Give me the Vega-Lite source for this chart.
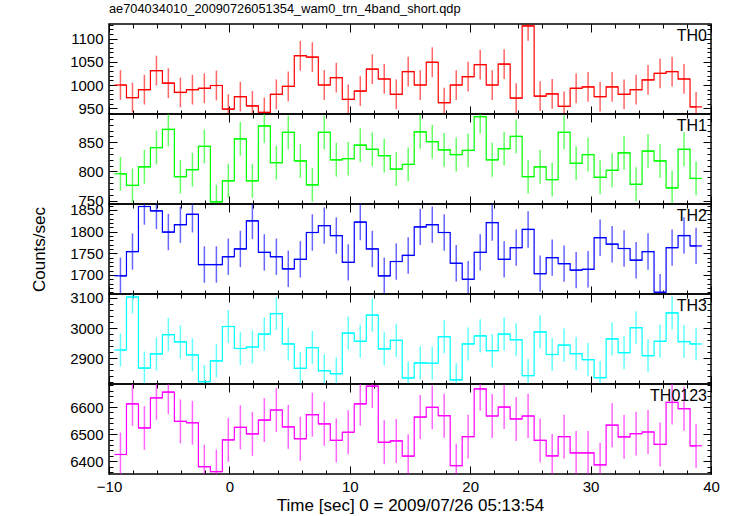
{
"$schema": "https://vega.github.io/schema/vega-lite/v6.json",
"padding": {"left": 29, "top": 1, "right": 21, "bottom": 2},
"background": "white",
"spacing": 0,
"bounds": "flush",
"data": {"values": [
{"t":-9.05,"t0":-9.55,"t1":-8.55,"th0":1000,"th1":796,"th2":1698,"th3":2927,"th0123":6425,"e0":32,"e1":29,"e2":42,"e3":55,"e0123":81},
{"t":-8.05,"t0":-8.55,"t1":-7.56,"th0":973,"th1":776,"th2":1754,"th3":3103,"th0123":6612,"e0":32,"e1":29,"e2":42,"e3":55,"e0123":81},
{"t":-7.06,"t0":-7.56,"t1":-6.56,"th0":990,"th1":808,"th2":1858,"th3":2867,"th0123":6523,"e0":32,"e1":29,"e2":42,"e3":55,"e0123":81},
{"t":-6.06,"t0":-6.56,"t1":-5.56,"th0":1031,"th1":841,"th2":1848,"th3":2914,"th0123":6634,"e0":32,"e1":29,"e2":42,"e3":55,"e0123":81},
{"t":-5.07,"t0":-5.56,"t1":-4.57,"th0":1004,"th1":872,"th2":1799,"th3":2978,"th0123":6655,"e0":32,"e1":29,"e2":42,"e3":55,"e0123":81},
{"t":-4.07,"t0":-4.57,"t1":-3.57,"th0":984,"th1":791,"th2":1816,"th3":2954,"th0123":6547,"e0":32,"e1":29,"e2":42,"e3":55,"e0123":81},
{"t":-3.07,"t0":-3.57,"t1":-2.58,"th0":990,"th1":803,"th2":1840,"th3":2911,"th0123":6542,"e0":32,"e1":29,"e2":42,"e3":55,"e0123":81},
{"t":-2.08,"t0":-2.58,"t1":-1.58,"th0":993,"th1":843,"th2":1724,"th3":2822,"th0123":6380,"e0":32,"e1":29,"e2":42,"e3":55,"e0123":81},
{"t":-1.08,"t0":-1.58,"t1":-0.58,"th0":999,"th1":748,"th2":1724,"th3":2891,"th0123":6362,"e0":32,"e1":29,"e2":42,"e3":55,"e0123":81},
{"t":-0.09,"t0":-0.58,"t1":0.41,"th0":948,"th1":784,"th2":1742,"th3":3005,"th0123":6479,"e0":32,"e1":29,"e2":42,"e3":55,"e0123":81},
{"t":0.91,"t0":0.41,"t1":1.41,"th0":975,"th1":856,"th2":1760,"th3":2932,"th0123":6525,"e0":32,"e1":29,"e2":42,"e3":55,"e0123":81},
{"t":1.91,"t0":1.41,"t1":2.40,"th0":955,"th1":784,"th2":1825,"th3":2937,"th0123":6501,"e0":32,"e1":29,"e2":42,"e3":55,"e0123":81},
{"t":2.90,"t0":2.40,"t1":3.40,"th0":941,"th1":878,"th2":1752,"th3":2980,"th0123":6552,"e0":32,"e1":29,"e2":42,"e3":55,"e0123":81},
{"t":3.90,"t0":3.40,"t1":4.40,"th0":980,"th1":815,"th2":1742,"th3":3048,"th0123":6589,"e0":32,"e1":29,"e2":42,"e3":55,"e0123":81},
{"t":4.89,"t0":4.40,"t1":5.39,"th0":997,"th1":867,"th2":1714,"th3":2947,"th0123":6527,"e0":32,"e1":29,"e2":42,"e3":55,"e0123":81},
{"t":5.89,"t0":5.39,"t1":6.39,"th0":1063,"th1":818,"th2":1736,"th3":2866,"th0123":6483,"e0":32,"e1":29,"e2":42,"e3":55,"e0123":81},
{"t":6.89,"t0":6.39,"t1":7.38,"th0":1060,"th1":777,"th2":1798,"th3":2935,"th0123":6572,"e0":32,"e1":29,"e2":42,"e3":55,"e0123":81},
{"t":7.88,"t0":7.38,"t1":8.38,"th0":1000,"th1":867,"th2":1814,"th3":2858,"th0123":6538,"e0":32,"e1":29,"e2":42,"e3":55,"e0123":81},
{"t":8.88,"t0":8.38,"t1":9.38,"th0":1016,"th1":820,"th2":1791,"th3":2848,"th0123":6477,"e0":32,"e1":29,"e2":42,"e3":55,"e0123":81},
{"t":9.87,"t0":9.38,"t1":10.37,"th0":969,"th1":822,"th2":1729,"th3":2983,"th0123":6507,"e0":32,"e1":29,"e2":42,"e3":55,"e0123":81},
{"t":10.87,"t0":10.37,"t1":11.37,"th0":987,"th1":845,"th2":1822,"th3":2956,"th0123":6612,"e0":32,"e1":29,"e2":42,"e3":55,"e0123":81},
{"t":11.87,"t0":11.37,"t1":12.36,"th0":1034,"th1":838,"th2":1760,"th3":3043,"th0123":6677,"e0":32,"e1":29,"e2":42,"e3":55,"e0123":81},
{"t":12.86,"t0":12.36,"t1":13.36,"th0":1013,"th1":827,"th2":1698,"th3":2931,"th0123":6470,"e0":32,"e1":29,"e2":42,"e3":55,"e0123":81},
{"t":13.86,"t0":13.36,"t1":14.36,"th0":980,"th1":804,"th2":1731,"th3":2959,"th0123":6475,"e0":32,"e1":29,"e2":42,"e3":55,"e0123":81},
{"t":14.85,"t0":14.36,"t1":15.35,"th0":1029,"th1":812,"th2":1745,"th3":2834,"th0123":6419,"e0":32,"e1":29,"e2":42,"e3":55,"e0123":81},
{"t":15.85,"t0":15.35,"t1":16.35,"th0":1000,"th1":868,"th2":1811,"th3":2884,"th0123":6563,"e0":32,"e1":29,"e2":42,"e3":55,"e0123":81},
{"t":16.85,"t0":16.35,"t1":17.34,"th0":1049,"th1":851,"th2":1816,"th3":2883,"th0123":6599,"e0":32,"e1":29,"e2":42,"e3":55,"e0123":81},
{"t":17.84,"t0":17.34,"t1":18.34,"th0":962,"th1":837,"th2":1798,"th3":2971,"th0123":6568,"e0":32,"e1":29,"e2":42,"e3":55,"e0123":81},
{"t":18.84,"t0":18.34,"t1":19.34,"th0":1000,"th1":829,"th2":1727,"th3":2828,"th0123":6384,"e0":32,"e1":29,"e2":42,"e3":55,"e0123":81},
{"t":19.83,"t0":19.34,"t1":20.33,"th0":1018,"th1":836,"th2":1690,"th3":2947,"th0123":6491,"e0":32,"e1":29,"e2":42,"e3":55,"e0123":81},
{"t":20.83,"t0":20.33,"t1":21.33,"th0":1044,"th1":894,"th2":1752,"th3":2974,"th0123":6667,"e0":32,"e1":29,"e2":42,"e3":55,"e0123":81},
{"t":21.83,"t0":21.33,"t1":22.32,"th0":1000,"th1":820,"th2":1821,"th3":2925,"th0123":6567,"e0":32,"e1":29,"e2":42,"e3":55,"e0123":81},
{"t":22.82,"t0":22.32,"t1":23.32,"th0":1045,"th1":839,"th2":1736,"th3":2980,"th0123":6600,"e0":32,"e1":29,"e2":42,"e3":55,"e0123":81},
{"t":23.82,"t0":23.32,"t1":24.32,"th0":972,"th1":860,"th2":1763,"th3":2961,"th0123":6556,"e0":32,"e1":29,"e2":42,"e3":55,"e0123":81},
{"t":24.81,"t0":24.32,"t1":25.31,"th0":1127,"th1":791,"th2":1805,"th3":2842,"th0123":6567,"e0":32,"e1":29,"e2":42,"e3":55,"e0123":81},
{"t":25.81,"t0":25.31,"t1":26.31,"th0":976,"th1":808,"th2":1703,"th3":2987,"th0123":6477,"e0":32,"e1":29,"e2":42,"e3":55,"e0123":81},
{"t":26.81,"t0":26.31,"t1":27.30,"th0":981,"th1":786,"th2":1740,"th3":2912,"th0123":6420,"e0":32,"e1":29,"e2":42,"e3":55,"e0123":81},
{"t":27.80,"t0":27.30,"t1":28.30,"th0":954,"th1":867,"th2":1726,"th3":2943,"th0123":6491,"e0":32,"e1":29,"e2":42,"e3":55,"e0123":81},
{"t":28.80,"t0":28.30,"t1":29.30,"th0":993,"th1":814,"th2":1711,"th3":2915,"th0123":6431,"e0":32,"e1":29,"e2":42,"e3":55,"e0123":81},
{"t":29.79,"t0":29.30,"t1":30.29,"th0":996,"th1":829,"th2":1713,"th3":2895,"th0123":6431,"e0":32,"e1":29,"e2":42,"e3":55,"e0123":81},
{"t":30.79,"t0":30.29,"t1":31.29,"th0":975,"th1":790,"th2":1786,"th3":2835,"th0123":6387,"e0":32,"e1":29,"e2":42,"e3":55,"e0123":81},
{"t":31.79,"t0":31.29,"t1":32.28,"th0":996,"th1":802,"th2":1771,"th3":2964,"th0123":6533,"e0":32,"e1":29,"e2":42,"e3":55,"e0123":81},
{"t":32.78,"t0":32.28,"t1":33.28,"th0":980,"th1":832,"th2":1761,"th3":2918,"th0123":6490,"e0":32,"e1":29,"e2":42,"e3":55,"e0123":81},
{"t":33.78,"t0":33.28,"t1":34.28,"th0":990,"th1":778,"th2":1734,"th3":3001,"th0123":6502,"e0":32,"e1":29,"e2":42,"e3":55,"e0123":81},
{"t":34.77,"t0":34.28,"t1":35.27,"th0":1011,"th1":835,"th2":1754,"th3":2908,"th0123":6508,"e0":32,"e1":29,"e2":42,"e3":55,"e0123":81},
{"t":35.77,"t0":35.27,"t1":36.27,"th0":1025,"th1":818,"th2":1660,"th3":2956,"th0123":6462,"e0":32,"e1":29,"e2":42,"e3":55,"e0123":81},
{"t":36.77,"t0":36.27,"t1":37.26,"th0":1029,"th1":772,"th2":1763,"th3":3050,"th0123":6617,"e0":32,"e1":29,"e2":42,"e3":55,"e0123":81},
{"t":37.76,"t0":37.26,"t1":38.26,"th0":1013,"th1":838,"th2":1791,"th3":2955,"th0123":6594,"e0":32,"e1":29,"e2":42,"e3":55,"e0123":81},
{"t":38.76,"t0":38.26,"t1":39.26,"th0":953,"th1":788,"th2":1767,"th3":2947,"th0123":6457,"e0":32,"e1":29,"e2":42,"e3":55,"e0123":81}
]},
"config": {
  "view": {"stroke": "#000", "strokeWidth": 1.5},
  "axis": {"grid": false, "domain": false, "tickColor": "#000", "tickWidth": 1, "labelFont": "Liberation Sans", "labelFontSize": 15, "labelColor": "#000", "titleFont": "Liberation Sans", "titleFontSize": 17, "titleFontWeight": "normal", "titleColor": "#000", "labelFlush": false, "labelOverlap": false, "format": "d"},
  "title": {"font": "Liberation Sans", "fontSize": 12.8, "fontWeight": "normal", "color": "#000"}
},
"vconcat": [
{
  "width": 602, "height": 90,
  "title": {"text": "ae704034010_20090726051354_wam0_trn_4band_short.qdp", "anchor": "start", "frame": "group", "offset": 8},
  "layer": [
    {"mark": {"type": "line", "interpolate": "step", "color": "#ff0000", "strokeWidth": 1.2, "clip": true},
     "encoding": {
       "x": {"field": "t", "type": "quantitative", "scale": {"domain": [-10, 40], "nice": false, "zero": false}, "axis": {"orient": "bottom", "values": [-10,0,10,20,30,40], "tickSize": -8, "labels": false, "title": null}},
       "y": {"field": "th0", "type": "quantitative", "scale": {"domain": [937.7, 1131.2], "nice": false, "zero": false}, "axis": {"orient": "left", "values": [950,1000,1050,1100], "tickSize": -8, "labelPadding": 14, "title": null}}}},
    {"mark": {"type": "rule", "color": "#ff0000", "strokeWidth": 1.2, "clip": true},
     "encoding": {
       "x": {"field": "t0", "type": "quantitative", "scale": {"domain": [-10, 40], "nice": false, "zero": false}, "axis": {"orient": "top", "values": [-10,0,10,20,30,40], "tickSize": -8, "labels": false, "title": null}},
       "x2": {"field": "t1"},
       "y": {"field": "th0", "type": "quantitative", "scale": {"domain": [937.7, 1131.2], "nice": false, "zero": false}, "axis": {"orient": "right", "values": [950,1000,1050,1100], "tickSize": -8, "labels": false, "title": null}}}},
    {"mark": {"type": "errorbar", "color": "#ff0000", "clip": true, "rule": {"strokeWidth": 1.5, "opacity": 0.6}},
     "encoding": {
       "x": {"field": "t", "type": "quantitative", "scale": {"domain": [-10, 40], "nice": false, "zero": false}, "axis": {"orient": "bottom", "values": [-10,-8,-6,-4,-2,0,2,4,6,8,10,12,14,16,18,20,22,24,26,28,30,32,34,36,38,40], "tickSize": -4, "labels": false, "title": null}},
       "y": {"field": "th0", "type": "quantitative", "scale": {"domain": [937.7, 1131.2], "nice": false, "zero": false}, "axis": {"orient": "left", "values": [940,950,960,970,980,990,1000,1010,1020,1030,1040,1050,1060,1070,1080,1090,1100,1110,1120,1130], "tickSize": -4, "labels": false, "title": null}},
       "yError": {"field": "e0"}}},
    {"data": {"values": [{"lab": "TH0"}]},
     "mark": {"type": "text", "align": "right", "baseline": "top", "dx": -4, "dy": 4, "font": "Liberation Sans", "fontSize": 16, "color": "#000"},
     "encoding": {
       "x": {"datum": 40, "type": "quantitative", "scale": {"domain": [-10, 40], "nice": false, "zero": false}, "axis": {"orient": "top", "values": [-10,-8,-6,-4,-2,0,2,4,6,8,10,12,14,16,18,20,22,24,26,28,30,32,34,36,38,40], "tickSize": -4, "labels": false, "title": null}},
       "y": {"datum": 1131.2, "type": "quantitative", "scale": {"domain": [937.7, 1131.2], "nice": false, "zero": false}, "axis": {"orient": "right", "values": [940,950,960,970,980,990,1000,1010,1020,1030,1040,1050,1060,1070,1080,1090,1100,1110,1120,1130], "tickSize": -4, "labels": false, "title": null}},
       "text": {"field": "lab"}}}
  ],
  "resolve": {"axis": {"x": "independent", "y": "independent"}}
},
{
  "width": 602, "height": 90,
  "layer": [
    {"mark": {"type": "line", "interpolate": "step", "color": "#00ff00", "strokeWidth": 1.2, "clip": true},
     "encoding": {
       "x": {"field": "t", "type": "quantitative", "scale": {"domain": [-10, 40], "nice": false, "zero": false}, "axis": {"orient": "bottom", "values": [-10,0,10,20,30,40], "tickSize": -8, "labels": false, "title": null}},
       "y": {"field": "th1", "type": "quantitative", "scale": {"domain": [744.2, 898.5], "nice": false, "zero": false}, "axis": {"orient": "left", "values": [750,800,850], "tickSize": -8, "labelPadding": 14, "title": null}}}},
    {"mark": {"type": "rule", "color": "#00ff00", "strokeWidth": 1.2, "clip": true},
     "encoding": {
       "x": {"field": "t0", "type": "quantitative", "scale": {"domain": [-10, 40], "nice": false, "zero": false}, "axis": {"orient": "top", "values": [-10,0,10,20,30,40], "tickSize": -8, "labels": false, "title": null}},
       "x2": {"field": "t1"},
       "y": {"field": "th1", "type": "quantitative", "scale": {"domain": [744.2, 898.5], "nice": false, "zero": false}, "axis": {"orient": "right", "values": [750,800,850], "tickSize": -8, "labels": false, "title": null}}}},
    {"mark": {"type": "errorbar", "color": "#00ff00", "clip": true, "rule": {"strokeWidth": 1.5, "opacity": 0.6}},
     "encoding": {
       "x": {"field": "t", "type": "quantitative", "scale": {"domain": [-10, 40], "nice": false, "zero": false}, "axis": {"orient": "bottom", "values": [-10,-8,-6,-4,-2,0,2,4,6,8,10,12,14,16,18,20,22,24,26,28,30,32,34,36,38,40], "tickSize": -4, "labels": false, "title": null}},
       "y": {"field": "th1", "type": "quantitative", "scale": {"domain": [744.2, 898.5], "nice": false, "zero": false}, "axis": {"orient": "left", "values": [750,760,770,780,790,800,810,820,830,840,850,860,870,880,890], "tickSize": -4, "labels": false, "title": null}},
       "yError": {"field": "e1"}}},
    {"data": {"values": [{"lab": "TH1"}]},
     "mark": {"type": "text", "align": "right", "baseline": "top", "dx": -4, "dy": 4, "font": "Liberation Sans", "fontSize": 16, "color": "#000"},
     "encoding": {
       "x": {"datum": 40, "type": "quantitative", "scale": {"domain": [-10, 40], "nice": false, "zero": false}, "axis": {"orient": "top", "values": [-10,-8,-6,-4,-2,0,2,4,6,8,10,12,14,16,18,20,22,24,26,28,30,32,34,36,38,40], "tickSize": -4, "labels": false, "title": null}},
       "y": {"datum": 898.5, "type": "quantitative", "scale": {"domain": [744.2, 898.5], "nice": false, "zero": false}, "axis": {"orient": "right", "values": [750,760,770,780,790,800,810,820,830,840,850,860,870,880,890], "tickSize": -4, "labels": false, "title": null}},
       "text": {"field": "lab"}}}
  ],
  "resolve": {"axis": {"x": "independent", "y": "independent"}}
},
{
  "width": 602, "height": 90,
  "layer": [
    {"mark": {"type": "line", "interpolate": "step", "color": "#0000ff", "strokeWidth": 1.2, "clip": true},
     "encoding": {
       "x": {"field": "t", "type": "quantitative", "scale": {"domain": [-10, 40], "nice": false, "zero": false}, "axis": {"orient": "bottom", "values": [-10,0,10,20,30,40], "tickSize": -8, "labels": false, "title": null}},
       "y": {"field": "th2", "type": "quantitative", "scale": {"domain": [1656, 1863.8], "nice": false, "zero": false}, "axis": {"orient": "left", "values": [1700,1750,1800,1850], "tickSize": -8, "labelPadding": 14, "title": "Counts/sec", "titlePadding": 21}}}},
    {"mark": {"type": "rule", "color": "#0000ff", "strokeWidth": 1.2, "clip": true},
     "encoding": {
       "x": {"field": "t0", "type": "quantitative", "scale": {"domain": [-10, 40], "nice": false, "zero": false}, "axis": {"orient": "top", "values": [-10,0,10,20,30,40], "tickSize": -8, "labels": false, "title": null}},
       "x2": {"field": "t1"},
       "y": {"field": "th2", "type": "quantitative", "scale": {"domain": [1656, 1863.8], "nice": false, "zero": false}, "axis": {"orient": "right", "values": [1700,1750,1800,1850], "tickSize": -8, "labels": false, "title": null}}}},
    {"mark": {"type": "errorbar", "color": "#0000ff", "clip": true, "rule": {"strokeWidth": 1.5, "opacity": 0.6}},
     "encoding": {
       "x": {"field": "t", "type": "quantitative", "scale": {"domain": [-10, 40], "nice": false, "zero": false}, "axis": {"orient": "bottom", "values": [-10,-8,-6,-4,-2,0,2,4,6,8,10,12,14,16,18,20,22,24,26,28,30,32,34,36,38,40], "tickSize": -4, "labels": false, "title": null}},
       "y": {"field": "th2", "type": "quantitative", "scale": {"domain": [1656, 1863.8], "nice": false, "zero": false}, "axis": {"orient": "left", "values": [1660,1670,1680,1690,1700,1710,1720,1730,1740,1750,1760,1770,1780,1790,1800,1810,1820,1830,1840,1850,1860], "tickSize": -4, "labels": false, "title": null}},
       "yError": {"field": "e2"}}},
    {"data": {"values": [{"lab": "TH2"}]},
     "mark": {"type": "text", "align": "right", "baseline": "top", "dx": -4, "dy": 4, "font": "Liberation Sans", "fontSize": 16, "color": "#000"},
     "encoding": {
       "x": {"datum": 40, "type": "quantitative", "scale": {"domain": [-10, 40], "nice": false, "zero": false}, "axis": {"orient": "top", "values": [-10,-8,-6,-4,-2,0,2,4,6,8,10,12,14,16,18,20,22,24,26,28,30,32,34,36,38,40], "tickSize": -4, "labels": false, "title": null}},
       "y": {"datum": 1863.8, "type": "quantitative", "scale": {"domain": [1656, 1863.8], "nice": false, "zero": false}, "axis": {"orient": "right", "values": [1660,1670,1680,1690,1700,1710,1720,1730,1740,1750,1760,1770,1780,1790,1800,1810,1820,1830,1840,1850,1860], "tickSize": -4, "labels": false, "title": null}},
       "text": {"field": "lab"}}}
  ],
  "resolve": {"axis": {"x": "independent", "y": "independent"}}
},
{
  "width": 602, "height": 90,
  "layer": [
    {"mark": {"type": "line", "interpolate": "step", "color": "#00ffff", "strokeWidth": 1.2, "clip": true},
     "encoding": {
       "x": {"field": "t", "type": "quantitative", "scale": {"domain": [-10, 40], "nice": false, "zero": false}, "axis": {"orient": "bottom", "values": [-10,0,10,20,30,40], "tickSize": -8, "labels": false, "title": null}},
       "y": {"field": "th3", "type": "quantitative", "scale": {"domain": [2814, 3113], "nice": false, "zero": false}, "axis": {"orient": "left", "values": [2900,3000,3100], "tickSize": -8, "labelPadding": 14, "title": null}}}},
    {"mark": {"type": "rule", "color": "#00ffff", "strokeWidth": 1.2, "clip": true},
     "encoding": {
       "x": {"field": "t0", "type": "quantitative", "scale": {"domain": [-10, 40], "nice": false, "zero": false}, "axis": {"orient": "top", "values": [-10,0,10,20,30,40], "tickSize": -8, "labels": false, "title": null}},
       "x2": {"field": "t1"},
       "y": {"field": "th3", "type": "quantitative", "scale": {"domain": [2814, 3113], "nice": false, "zero": false}, "axis": {"orient": "right", "values": [2900,3000,3100], "tickSize": -8, "labels": false, "title": null}}}},
    {"mark": {"type": "errorbar", "color": "#00ffff", "clip": true, "rule": {"strokeWidth": 1.5, "opacity": 0.6}},
     "encoding": {
       "x": {"field": "t", "type": "quantitative", "scale": {"domain": [-10, 40], "nice": false, "zero": false}, "axis": {"orient": "bottom", "values": [-10,-8,-6,-4,-2,0,2,4,6,8,10,12,14,16,18,20,22,24,26,28,30,32,34,36,38,40], "tickSize": -4, "labels": false, "title": null}},
       "y": {"field": "th3", "type": "quantitative", "scale": {"domain": [2814, 3113], "nice": false, "zero": false}, "axis": {"orient": "left", "values": [2820,2840,2860,2880,2900,2920,2940,2960,2980,3000,3020,3040,3060,3080,3100], "tickSize": -4, "labels": false, "title": null}},
       "yError": {"field": "e3"}}},
    {"data": {"values": [{"lab": "TH3"}]},
     "mark": {"type": "text", "align": "right", "baseline": "top", "dx": -4, "dy": 4, "font": "Liberation Sans", "fontSize": 16, "color": "#000"},
     "encoding": {
       "x": {"datum": 40, "type": "quantitative", "scale": {"domain": [-10, 40], "nice": false, "zero": false}, "axis": {"orient": "top", "values": [-10,-8,-6,-4,-2,0,2,4,6,8,10,12,14,16,18,20,22,24,26,28,30,32,34,36,38,40], "tickSize": -4, "labels": false, "title": null}},
       "y": {"datum": 3113, "type": "quantitative", "scale": {"domain": [2814, 3113], "nice": false, "zero": false}, "axis": {"orient": "right", "values": [2820,2840,2860,2880,2900,2920,2940,2960,2980,3000,3020,3040,3060,3080,3100], "tickSize": -4, "labels": false, "title": null}},
       "text": {"field": "lab"}}}
  ],
  "resolve": {"axis": {"x": "independent", "y": "independent"}}
},
{
  "width": 602, "height": 90,
  "layer": [
    {"mark": {"type": "line", "interpolate": "step", "color": "#ff00ff", "strokeWidth": 1.2, "clip": true},
     "encoding": {
       "x": {"field": "t", "type": "quantitative", "scale": {"domain": [-10, 40], "nice": false, "zero": false}, "axis": {"orient": "bottom", "values": [-10,0,10,20,30,40], "tickSize": -8, "labels": true, "labelPadding": 13, "title": "Time [sec] 0 = 2009/07/26 05:13:54", "titlePadding": 3}},
       "y": {"field": "th0123", "type": "quantitative", "scale": {"domain": [6353, 6685], "nice": false, "zero": false}, "axis": {"orient": "left", "values": [6400,6500,6600], "tickSize": -8, "labelPadding": 14, "title": null}}}},
    {"mark": {"type": "rule", "color": "#ff00ff", "strokeWidth": 1.2, "clip": true},
     "encoding": {
       "x": {"field": "t0", "type": "quantitative", "scale": {"domain": [-10, 40], "nice": false, "zero": false}, "axis": {"orient": "top", "values": [-10,0,10,20,30,40], "tickSize": -8, "labels": false, "title": null}},
       "x2": {"field": "t1"},
       "y": {"field": "th0123", "type": "quantitative", "scale": {"domain": [6353, 6685], "nice": false, "zero": false}, "axis": {"orient": "right", "values": [6400,6500,6600], "tickSize": -8, "labels": false, "title": null}}}},
    {"mark": {"type": "errorbar", "color": "#ff00ff", "clip": true, "rule": {"strokeWidth": 1.5, "opacity": 0.6}},
     "encoding": {
       "x": {"field": "t", "type": "quantitative", "scale": {"domain": [-10, 40], "nice": false, "zero": false}, "axis": {"orient": "bottom", "values": [-10,-8,-6,-4,-2,0,2,4,6,8,10,12,14,16,18,20,22,24,26,28,30,32,34,36,38,40], "tickSize": -4, "labels": false, "title": null}},
       "y": {"field": "th0123", "type": "quantitative", "scale": {"domain": [6353, 6685], "nice": false, "zero": false}, "axis": {"orient": "left", "values": [6360,6380,6400,6420,6440,6460,6480,6500,6520,6540,6560,6580,6600,6620,6640,6660,6680], "tickSize": -4, "labels": false, "title": null}},
       "yError": {"field": "e0123"}}},
    {"data": {"values": [{"lab": "TH0123"}]},
     "mark": {"type": "text", "align": "right", "baseline": "top", "dx": -4, "dy": 4, "font": "Liberation Sans", "fontSize": 16, "color": "#000"},
     "encoding": {
       "x": {"datum": 40, "type": "quantitative", "scale": {"domain": [-10, 40], "nice": false, "zero": false}, "axis": {"orient": "top", "values": [-10,-8,-6,-4,-2,0,2,4,6,8,10,12,14,16,18,20,22,24,26,28,30,32,34,36,38,40], "tickSize": -4, "labels": false, "title": null}},
       "y": {"datum": 6685, "type": "quantitative", "scale": {"domain": [6353, 6685], "nice": false, "zero": false}, "axis": {"orient": "right", "values": [6360,6380,6400,6420,6440,6460,6480,6500,6520,6540,6560,6580,6600,6620,6640,6660,6680], "tickSize": -4, "labels": false, "title": null}},
       "text": {"field": "lab"}}}
  ],
  "resolve": {"axis": {"x": "independent", "y": "independent"}}
}
]
}
